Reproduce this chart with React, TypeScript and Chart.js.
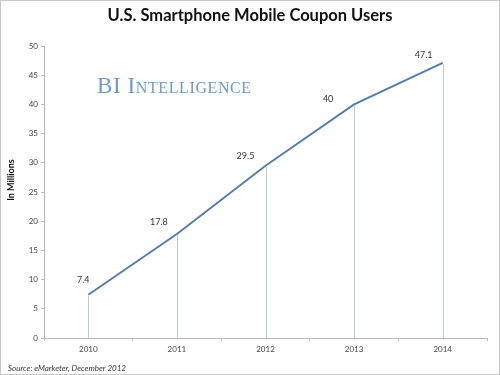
import React, { useEffect, useRef } from "react";
import { Chart, registerables } from "chart.js";

Chart.register(...registerables);

const categories = ["2010", "2011", "2012", "2013", "2014"];
const users = [7.4, 17.8, 29.5, 40, 47.1];
const yTicks = [0, 5, 10, 15, 20, 25, 30, 35, 40, 45, 50];
const titleText = "U.S. Smartphone Mobile Coupon Users";
const yAxisTitle = "In Millions";
const watermark = "BI Intelligence";
const sourceText = "Source: eMarketer, December 2012";

const labelOffsets = [
  [-5, -15],
  [-18, -12],
  [-20, -10],
  [-26, -5],
  [-19, -8],
];

const decorPlugin = {
  id: "decor",
  beforeDraw(chart: any) {
    const ctx = chart.ctx;
    ctx.save();
    ctx.fillStyle = "#ffffff";
    ctx.fillRect(0, 0, chart.width, chart.height);
    ctx.restore();
  },
  afterDatasetsDraw(chart: any) {
    const ctx = chart.ctx;
    const meta = chart.getDatasetMeta(0);
    const xAxisY = chart.scales.y.getPixelForValue(0);
    ctx.save();
    ctx.strokeStyle = "#bfcddb";
    ctx.lineWidth = 1;
    meta.data.forEach((pt: any) => {
      const x = Math.round(pt.x) + 0.5;
      ctx.beginPath();
      ctx.moveTo(x, pt.y + 1);
      ctx.lineTo(x, xAxisY);
      ctx.stroke();
    });
    ctx.fillStyle = "#333333";
    ctx.font = "9px Lato";
    ctx.textAlign = "center";
    ctx.textBaseline = "middle";
    meta.data.forEach((pt: any, i: number) => {
      const off = labelOffsets[i] || [-18, -10];
      ctx.fillText(String(users[i]), pt.x + off[0], pt.y + off[1]);
    });
    ctx.restore();
  },
  afterDraw(chart: any) {
    const ctx = chart.ctx;
    ctx.save();
    ctx.fillStyle = "#111111";
    ctx.font = "bold 16.5px Lato";
    ctx.textAlign = "center";
    ctx.textBaseline = "middle";
    ctx.fillText(titleText, 250, 16);
    ctx.save();
    ctx.translate(11, 180);
    ctx.rotate(-Math.PI / 2);
    ctx.font = "bold 9px Lato";
    ctx.fillStyle = "#111111";
    ctx.fillText(yAxisTitle, 0, 0);
    ctx.restore();
    ctx.save();
    ctx.font = "small-caps 23px 'Liberation Serif'";
    (ctx as any).letterSpacing = "0.6px";
    ctx.fillStyle = "#6a9bcf";
    ctx.textAlign = "left";
    ctx.fillText(watermark, 97, 87);
    ctx.restore();
    ctx.font = "italic 8px Lato";
    ctx.fillStyle = "#333333";
    ctx.textAlign = "left";
    ctx.textBaseline = "middle";
    ctx.fillText(sourceText, 8, 368);
    ctx.strokeStyle = "#c8c8c8";
    ctx.lineWidth = 1;
    ctx.strokeRect(0.5, 0.5, chart.width - 1, chart.height - 1);
    ctx.restore();
  },
};

export default function App() {
  const ref = useRef<HTMLCanvasElement>(null);
  useEffect(() => {
    if (!ref.current) return;
    const chart = new Chart(ref.current, {
      type: "line",
      data: {
        labels: categories,
        datasets: [
          {
            data: users,
            borderColor: "#4f7bb0",
            borderWidth: 1.8,
            pointRadius: 0,
            tension: 0,
            fill: false,
          },
        ],
      },
      options: {
        animation: false,
        responsive: false,
        layout: { padding: { left: 0, top: 46, right: 13, bottom: 0 } },
        plugins: {
          legend: { display: false },
          title: { display: false },
          tooltip: { enabled: false },
        },
        scales: {
          x: {
            type: "category",
            offset: true,
            grid: {
              offset: true,
              drawOnChartArea: false,
              drawTicks: true,
              tickLength: 3,
              color: "#c0c0c0",
            },
            border: { color: "#b8b8b8" },
            ticks: {
              color: "#444444",
              font: { family: "Lato", size: 8 },
              padding: 4,
              maxRotation: 0,
            },
            afterFit(scale: any) {
              scale.height = 37;
            },
          },
          y: {
            min: 0,
            max: 50,
            afterBuildTicks(scale: any) {
              scale.ticks = yTicks.map((v) => ({ value: v }));
            },
            grid: {
              drawOnChartArea: false,
              drawTicks: true,
              tickLength: 3,
              color: "#c0c0c0",
            },
            border: { color: "#b8b8b8" },
            ticks: {
              color: "#444444",
              font: { family: "Lato", size: 8 },
              padding: 3,
            },
            afterFit(scale: any) {
              scale.width = 44;
            },
          },
        },
      },
      plugins: [decorPlugin],
    });
    return () => chart.destroy();
  }, []);
  return (
    <div style={{ position: "fixed", left: 0, top: 0, width: 500, height: 375 }}>
      <canvas ref={ref} width={500} height={375} style={{ width: 500, height: 375 }} />
    </div>
  );
}
